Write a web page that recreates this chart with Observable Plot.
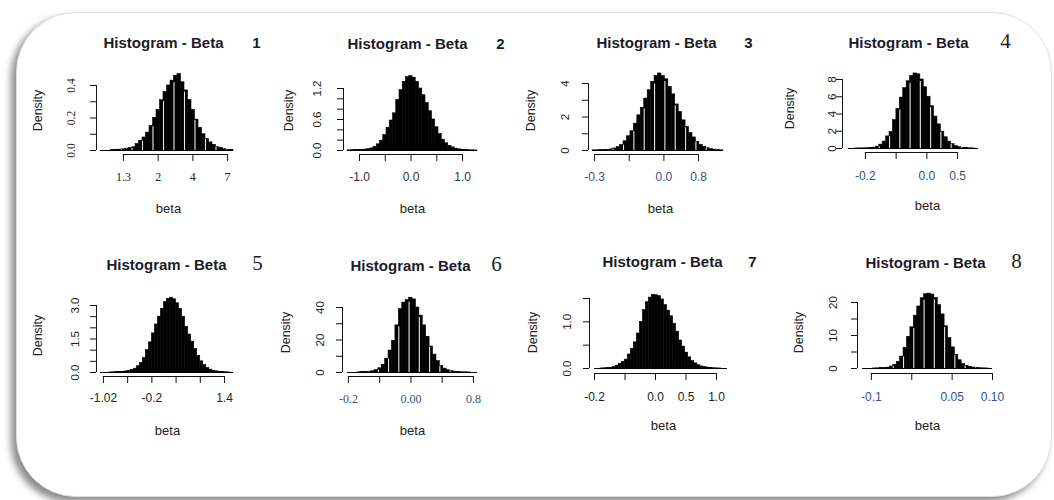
<!DOCTYPE html>
<html><head><meta charset="utf-8">
<script src="https://cdn.jsdelivr.net/npm/d3@7"></script>
<script src="https://cdn.jsdelivr.net/npm/@observablehq/plot@0.6"></script>
<style>
html,body{margin:0;padding:0;background:#fff;}
#page{position:relative;width:1054px;height:500px;overflow:hidden;background:#fff;}
#frame{position:absolute;left:16px;top:12px;width:1034px;height:483px;border-radius:60px;border:1px solid #e0e0e0;box-shadow:-5px 5px 7px rgba(0,0,0,0.45);background:#fff;}
.panel{position:absolute;}
</style></head><body><div id="page"><div id="frame"></div></div>
<script>
// ---------- data ----------
const titleText = "Histogram - Beta";
const titleNumbers = ["1","2","3","4","5","6","7","8"];

// histogram densities (one value per bin)
const bins1 = [0,0,0,0.002,0.003,0.005,0.007,0.01,0.015,0.02,0.04,0.06,0.08,0.11,0.15,0.2,0.25,0.31,0.36,0.4,0.43,0.46,0.47,0.42,0.37,0.31,0.25,0.19,0.14,0.1,0.07,0.05,0.035,0.02,0.015,0.008,0.004,0.002];
const bins2 = [0.003,0.005,0.007,0.01,0.013,0.018,0.025,0.04,0.07,0.12,0.19,0.3,0.44,0.58,0.72,0.98,1.17,1.33,1.42,1.44,1.41,1.33,1.2,1.07,0.92,0.76,0.6,0.45,0.32,0.21,0.14,0.09,0.06,0.035,0.022,0.014,0.009,0.005,0.003,0.002];
const bins3 = [0.01,0.01,0.02,0.03,0.04,0.07,0.12,0.2,0.33,0.55,0.85,1.15,1.6,2.1,2.55,3.1,3.6,4.1,4.45,4.6,4.45,4.25,3.8,3.35,2.75,2.3,1.8,1.4,1.05,0.78,0.52,0.34,0.22,0.13,0.08,0.05,0.03,0.01];
const bins4 = [0,0,0.01,0.01,0.02,0.03,0.05,0.1,0.22,0.45,0.8,1.4,1.9,3.3,4.6,5.9,7.0,7.8,8.4,8.7,8.6,8.0,7.1,6.0,4.9,3.7,2.8,1.95,1.3,0.8,0.5,0.28,0.15,0.08,0.04,0.02,0.01,0];
const bins5 = [0,0,0,0.005,0.01,0.015,0.02,0.03,0.05,0.08,0.12,0.17,0.28,0.42,0.65,1.0,1.35,1.75,2.15,2.5,2.85,3.15,3.3,3.35,3.28,3.1,2.85,2.5,2.05,1.7,1.38,1.05,0.75,0.5,0.33,0.2,0.13,0.07,0.05,0.03,0.02,0.01,0.005,0];
const bins6 = [0,0,0,0.1,0.2,0.3,0.5,0.8,1.5,2.6,4.8,8.5,13.5,19.5,29,39,43,44.5,46,45,40,35,29,22,16,11,7,4,2.4,1.4,0.8,0.5,0.3,0.15,0.1,0.05,0,0];
const bins7 = [0,0,0.002,0.004,0.007,0.012,0.03,0.06,0.1,0.14,0.19,0.3,0.42,0.56,0.75,1.0,1.25,1.42,1.52,1.58,1.57,1.55,1.48,1.36,1.24,1.12,0.96,0.79,0.6,0.47,0.34,0.24,0.16,0.11,0.07,0.045,0.03,0.02,0.012,0.006,0.003,0.001,0,0];
const bins8 = [0,0,0,0.02,0.05,0.1,0.15,0.25,0.6,1.1,2.0,3.6,6.3,9.6,12.5,16,18.8,21.3,22.5,22.7,22.4,21.4,19.2,16.4,12.8,9.2,6.4,4.1,2.5,1.4,0.8,0.5,0.3,0.15,0.08,0.04,0.02,0];

// histogram extent along each x axis (axis units)
const binRange1 = [-0.66, 3.17];
const binRange2 = [-1.233, 1.29];
const binRange3 = [-0.06, 3.72];
const binRange4 = [-0.55, 3.68];
const binRange5 = [-0.12, 5.37];
const binRange6 = [-0.03, 4.13];
const binRange7 = [0, 4.36];
const binRange8 = [-0.22, 3.0];

// x ticks and their labels
const xTicks1 = [0,1,2,3];            const xLabels1 = ["1.3","2","4","7"];
const xTicks2 = [-1,-0.5,0,0.5,1];     const xLabels2 = ["-1.0","","0.0","","1.0"];
const xTicks3 = [0,1,2,3];            const xLabels3 = ["-0.3","","0.0","0.8"];
const xTicks4 = [0,1,2,3];            const xLabels4 = ["-0.2","","0.0","0.5"];
const xTicks5 = [0,1,2,3,4,5];        const xLabels5 = ["-1.02","","-0.2","","","1.4"];
const xTicks6 = [0,1,2,3,4];          const xLabels6 = ["-0.2","","0.00","","0.8"];
const xTicks7 = [0,1,2,3,4];          const xLabels7 = ["-0.2","","0.0","0.5","1.0"];
const xTicks8 = [0,1,2,3];            const xLabels8 = ["-0.1","","0.05","0.10"];

// y ticks and their labels
const yTicks1 = [0,0.1,0.2,0.3,0.4];          const yLabels1 = ["0.0","","0.2","","0.4"];
const yTicks2 = [0,0.2,0.4,0.6,0.8,1.0,1.2];  const yLabels2 = ["0.0","","","0.6","","","1.2"];
const yTicks3 = [0,1,2,3,4];                  const yLabels3 = ["0","","2","","4"];
const yTicks4 = [0,2,4,6,8];                  const yLabels4 = ["0","2","4","6","8"];
const yTicks5 = [0,0.5,1,1.5,2,2.5,3];        const yLabels5 = ["0.0","","","1.5","","","3.0"];
const yTicks6 = [0,10,20,30,40];              const yLabels6 = ["0","","20","","40"];
const yTicks7 = [0,0.5,1,1.5];                const yLabels7 = ["0.0","","1.0",""];
const yTicks8 = [0,5,10,15,20];               const yLabels8 = ["0","","10","","20"];

const xAxisTitle = "beta";
const yAxisTitle = "Density";

// ---------- layout & styles (page pixels) ----------
const SANS = "'Liberation Sans', Arial, Helvetica, sans-serif";
const SERIF = "'Liberation Serif', 'Times New Roman', serif";
const NARROW = "'Liberation Sans Narrow', 'Liberation Sans', Arial, sans-serif";
const BLUE = "#34508c", INK = "#222";

const layout = [
  {box:[20,20,248,225], yAxisX:96, hist:[100,233], baseY:150, topY:85, xAxisY:154, tickLabelY:177, yLabelX:71, dens:[37,110], beta:[168,208], title:[103,47], num:[256,47], numSerif:false, xFont:SERIF, xColor:INK, yFont:SERIF, stripe:3},
  {box:[268,20,252,225], yAxisX:343, hist:[347,477], baseY:150, topY:88, xAxisY:154, tickLabelY:177, yLabelX:317, dens:[288,110], beta:[412,208], title:[347,48], num:[500,48], numSerif:false, xFont:SANS, xColor:"#333", yFont:SANS, stripe:0},
  {box:[520,20,256,225], yAxisX:588, hist:[592,723], baseY:150, topY:83, xAxisY:154, tickLabelY:177, yLabelX:565, dens:[530,110], beta:[660,208], title:[596,47], num:[748,47], numSerif:false, xFont:SANS, xColor:BLUE, yFont:SANS, stripe:3},
  {box:[776,20,272,225], yAxisX:842, hist:[848,978], baseY:148, topY:79, xAxisY:152, tickLabelY:176, yLabelX:832, dens:[789,108], beta:[927,205], title:[848,47], num:[1005,47], numSerif:true, xFont:SANS, xColor:BLUE, yFont:SANS, stripe:3},
  {box:[20,250,248,200], yAxisX:96, hist:[100,233], baseY:372, topY:305, xAxisY:376, tickLabelY:398, yLabelX:75, dens:[37,335], beta:[167,430], title:[106,269], num:[257,269], numSerif:true, xFont:NARROW, xColor:INK, yFont:SANS, stripe:0},
  {box:[268,250,252,200], yAxisX:342, hist:[347,477], baseY:372, topY:307, xAxisY:376, tickLabelY:399, yLabelX:320, dens:[285,332], beta:[412,430], title:[350,270], num:[496,270], numSerif:true, xFont:SERIF, xColor:BLUE, yFont:SANS, stripe:3},
  {box:[520,250,256,200], yAxisX:589, hist:[594,727], baseY:368, topY:298, xAxisY:373, tickLabelY:397, yLabelX:567, dens:[532,332], beta:[663,425], title:[602,266], num:[752,266], numSerif:false, xFont:SANS, xColor:INK, yFont:SANS, stripe:0},
  {box:[776,250,272,200], yAxisX:857, hist:[862,992], baseY:368, topY:302, xAxisY:373, tickLabelY:397, yLabelX:833, dens:[798,332], beta:[927,425], title:[865,267], num:[1016,267], numSerif:true, xFont:SANS, xColor:BLUE, yFont:SANS, stripe:3}
];

const allBins = [bins1,bins2,bins3,bins4,bins5,bins6,bins7,bins8];
const allRanges = [binRange1,binRange2,binRange3,binRange4,binRange5,binRange6,binRange7,binRange8];
const allXTicks = [xTicks1,xTicks2,xTicks3,xTicks4,xTicks5,xTicks6,xTicks7,xTicks8];
const allXLabels = [xLabels1,xLabels2,xLabels3,xLabels4,xLabels5,xLabels6,xLabels7,xLabels8];
const allYTicks = [yTicks1,yTicks2,yTicks3,yTicks4,yTicks5,yTicks6,yTicks7,yTicks8];
const allYLabels = [yLabels1,yLabels2,yLabels3,yLabels4,yLabels5,yLabels6,yLabels7,yLabels8];

function makePanel(i) {
  const p = layout[i];
  const [L, T, W, H] = p.box;
  const bins = allBins[i], range = allRanges[i];
  const n = bins.length, w = (range[1] - range[0]) / n;
  const rects = bins.map((h, k) => ({x1: range[0] + k * w, x2: range[0] + (k + 1) * w, h}));
  const stripes = [];
  if (p.stripe) {
    for (let k = p.stripe; k < n; k += p.stripe) {
      const m = Math.min(bins[k - 1], bins[k]);
      if (m > 0) stripes.push({x: range[0] + k * w, h: m * 0.97});
    }
  }
  const xt = allXTicks[i], yt = allYTicks[i];
  const xl = xt.map((v, k) => ({v, t: allXLabels[i][k]})).filter(d => d.t);
  const yl = yt.map((v, k) => ({v, t: allYLabels[i][k]})).filter(d => d.t);
  const marginLeft = p.yAxisX - L;
  const marginBottom = T + H - p.xAxisY;
  const fx = px => px - p.yAxisX;   // offset from frame left
  const fy = py => py - T;          // offset from frame top (marginTop = 0)

  const marks = [
    Plot.rectY(rects, {x1: "x1", x2: "x2", y: "h", fill: "#000", stroke: "#000", strokeWidth: 0.6}),
    Plot.ruleX(stripes, {x: "x", y1: 0, y2: "h", stroke: "#fff", strokeWidth: 1.1, strokeOpacity: 0.9}),
    Plot.ruleY([0], {x1: range[0], x2: range[1], stroke: "#000", strokeWidth: 1}),
    // y axis
    Plot.ruleX([range[0]], {y1: yt[0], y2: yt[yt.length - 1], dx: p.yAxisX - p.hist[0], stroke: "#111", strokeWidth: 1}),
    Plot.axisY(yt, {anchor: "left", tickSize: 6, tickFormat: () => "", label: null, stroke: "#111"}),
    Plot.text(yl, {y: "v", text: "t", frameAnchor: "left", dx: fx(p.yLabelX), rotate: -90, textAnchor: "middle", lineAnchor: "middle", fontSize: 11.5, fontFamily: p.yFont, fill: INK}),
    // x axis
    Plot.ruleY([yt[0]], {x1: xt[0], x2: xt[xt.length - 1], dy: p.xAxisY - p.baseY, stroke: "#111", strokeWidth: 1}),
    Plot.axisX(xt, {anchor: "bottom", tickSize: 7, tickFormat: () => "", label: null, stroke: "#111"}),
    Plot.text(xl, {x: "v", text: "t", frameAnchor: "bottom", dy: p.tickLabelY - p.xAxisY, textAnchor: "middle", lineAnchor: "middle", fontSize: 12, fontFamily: p.xFont, fill: p.xColor}),
    // axis titles
    Plot.text([yAxisTitle], {text: d => d, frameAnchor: "top-left", dx: fx(p.dens[0]), dy: fy(p.dens[1]), rotate: -90, textAnchor: "middle", lineAnchor: "middle", fontSize: 12.5, fontFamily: SANS, fill: INK}),
    Plot.text([xAxisTitle], {text: d => d, frameAnchor: "top-left", dx: fx(p.beta[0]), dy: fy(p.beta[1]), textAnchor: "middle", lineAnchor: "middle", fontSize: 13, fontFamily: SANS, fill: INK}),
    // panel title
    Plot.text([titleText], {text: d => d, frameAnchor: "top-left", dx: fx(p.title[0]), dy: fy(p.title[1]), textAnchor: "start", lineAnchor: "bottom", fontSize: 15, fontWeight: "bold", fontFamily: SANS, fill: "#1c1c28"}),
    Plot.text([titleNumbers[i]], {text: d => d, frameAnchor: "top-left", dx: fx(p.num[0]), dy: fy(p.num[1]), textAnchor: "middle", lineAnchor: "bottom",
      fontSize: p.numSerif ? 21 : 15, fontWeight: p.numSerif ? "normal" : "bold", fontFamily: p.numSerif ? SERIF : SANS, fill: "#1c1c28"})
  ];

  const svg = Plot.plot({
    width: W, height: H,
    marginLeft, marginTop: 0, marginRight: 0, marginBottom,
    x: {domain: range, range: [p.hist[0] - L, p.hist[1] - L], label: null},
    y: {domain: [yt[0], yt[yt.length - 1]], range: [p.baseY - T, p.topY - T], label: null},
    style: {background: "transparent", overflow: "visible", maxWidth: "none"},
    marks
  });
  const div = document.createElement("div");
  div.className = "panel";
  div.style.left = L + "px";
  div.style.top = T + "px";
  div.appendChild(svg);
  document.getElementById("page").appendChild(div);
}

for (let i = 0; i < 8; i++) makePanel(i);
</script>
</body></html>
